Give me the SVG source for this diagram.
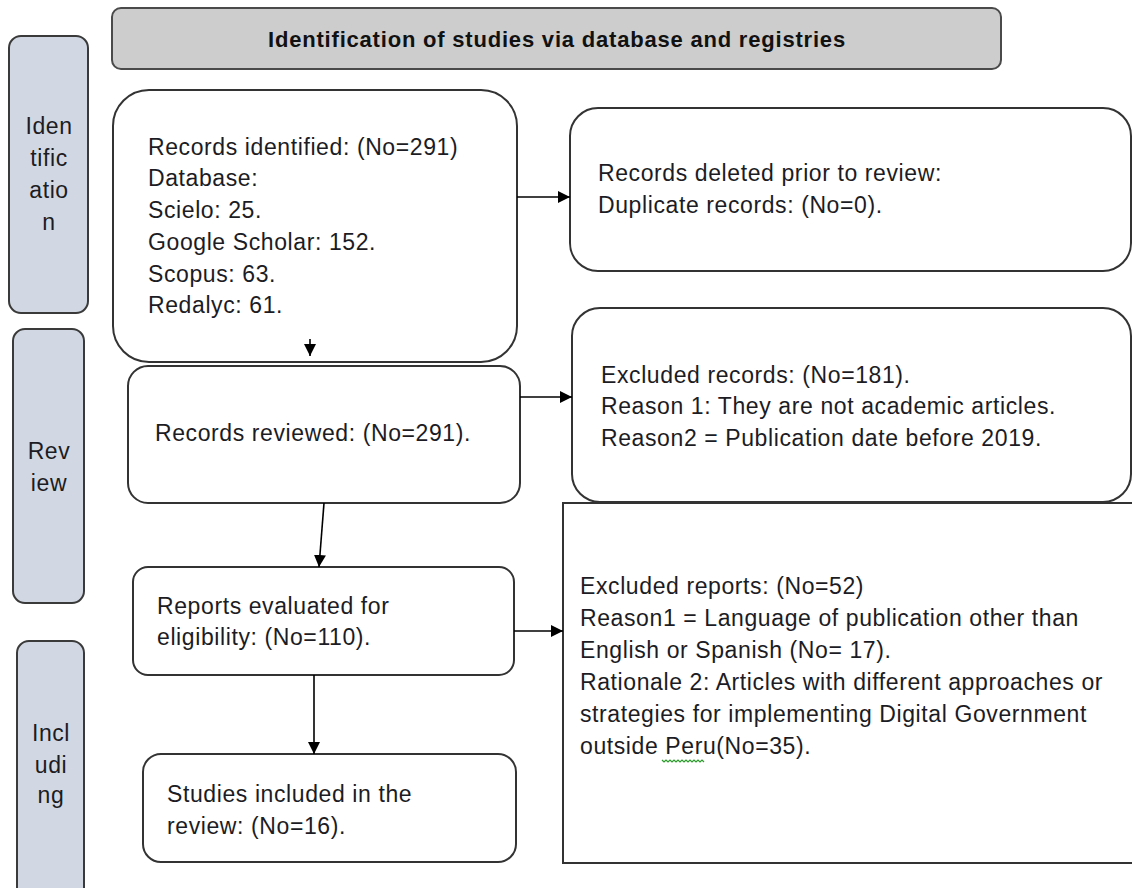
<svg xmlns="http://www.w3.org/2000/svg" width="1132" height="888" viewBox="0 0 1132 888">
<defs>
<marker id="ah" viewBox="0 0 10 10" refX="10" refY="5" markerWidth="12" markerHeight="12" markerUnits="userSpaceOnUse" orient="auto">
<path d="M0,0 L10,5 L0,10 z" fill="#000"/>
</marker>
<style>
.box{fill:#fff;stroke:#333;stroke-width:2}
.side{fill:#d2d8e3;stroke:#3a3a3a;stroke-width:2}
.title{fill:#cdcdcd;stroke:#4a4a4a;stroke-width:2}
.t{font-family:"Liberation Sans",Arial,sans-serif;font-size:23px;fill:#1c1c24;letter-spacing:0.6px}
.tb{font-family:"Liberation Sans",Arial,sans-serif;font-size:22px;font-weight:bold;fill:#111;letter-spacing:0.8px}
.c{text-anchor:middle}
.conn{stroke:#000;stroke-width:1.6;fill:none;marker-end:url(#ah)}
</style>
</defs>
<rect width="1132" height="888" fill="#fff"/>

<g id="title">
<rect class="title" x="112" y="8" width="889" height="61" rx="9"/>
<text class="tb c" x="557" y="47">Identification of studies via database and registries</text>
</g>

<g id="side-identification">
<rect class="side" x="9" y="36" width="79" height="277" rx="12"/>
<text class="t c" x="49" y="134">Iden</text>
<text class="t c" x="49" y="166">tific</text>
<text class="t c" x="49" y="198">atio</text>
<text class="t c" x="49" y="230">n</text>
</g>

<g id="side-review">
<rect class="side" x="13" y="329" width="71" height="274" rx="12"/>
<text class="t c" x="49" y="459">Rev</text>
<text class="t c" x="49" y="491">iew</text>
</g>

<g id="side-including">
<rect class="side" x="17" y="641" width="67" height="260" rx="12"/>
<text class="t c" x="51" y="741">Incl</text>
<text class="t c" x="51" y="773">udi</text>
<text class="t c" x="51" y="803">ng</text>
</g>

<g id="records-identified">
<rect class="box" x="113" y="90" width="404" height="272" rx="36"/>
<text class="t" x="148" y="155">Records identified: (No=291)</text>
<text class="t" x="148" y="186">Database:</text>
<text class="t" x="148" y="218">Scielo: 25.</text>
<text class="t" x="148" y="250">Google Scholar: 152.</text>
<text class="t" x="148" y="282">Scopus: 63.</text>
<text class="t" x="148" y="313">Redalyc: 61.</text>
</g>

<g id="records-deleted">
<rect class="box" x="570" y="108" width="561" height="163" rx="28"/>
<text class="t" x="598" y="181">Records deleted prior to review:</text>
<text class="t" x="598" y="213">Duplicate records: (No=0).</text>
</g>

<g id="records-reviewed">
<rect class="box" x="128" y="366" width="392" height="137" rx="20"/>
<text class="t" x="155" y="441">Records reviewed: (No=291).</text>
</g>

<g id="excluded-records">
<rect class="box" x="572" y="308" width="559" height="194" rx="28"/>
<text class="t" x="601" y="383">Excluded records: (No=181).</text>
<text class="t" x="601" y="414">Reason 1: They are not academic articles.</text>
<text class="t" x="601" y="446">Reason2 = Publication date before 2019.</text>
</g>

<g id="reports-evaluated">
<rect class="box" x="133" y="567" width="381" height="108" rx="15"/>
<text class="t" x="157" y="614">Reports evaluated for</text>
<text class="t" x="157" y="645">eligibility: (No=110).</text>
</g>

<g id="excluded-reports">
<rect class="box" x="563" y="503" width="575" height="360" rx="0"/>
<text class="t" x="580" y="594">Excluded reports: (No=52)</text>
<text class="t" x="580" y="626">Reason1 = Language of publication other than</text>
<text class="t" x="580" y="658">English or Spanish (No= 17).</text>
<text class="t" x="580" y="690">Rationale 2: Articles with different approaches or</text>
<text class="t" x="580" y="722">strategies for implementing Digital Government</text>
<text class="t" x="580" y="754">outside Peru(No=35).</text>
<path d="M662,760 l2,2 l2,-2 l2,2 l2,-2 l2,2 l2,-2 l2,2 l2,-2 l2,2 l2,-2 l2,2 l2,-2 l2,2 l2,-2 l2,2 l2,-2 l2,2 l2,-2 l2,2 l2,-2 l2,2" fill="none" stroke="#2a9a2a" stroke-width="1.2"/>
</g>

<g id="studies-included">
<rect class="box" x="143" y="754" width="373" height="108" rx="18"/>
<text class="t" x="167" y="802">Studies included in the</text>
<text class="t" x="167" y="834">review: (No=16).</text>
</g>

<g id="connectors">
<line class="conn" x1="517" y1="197" x2="570" y2="197"/>
<line class="conn" x1="310" y1="339" x2="310" y2="356"/>
<line class="conn" x1="520" y1="397" x2="572" y2="397"/>
<line class="conn" x1="324" y1="503" x2="319" y2="567"/>
<line class="conn" x1="514" y1="631" x2="563" y2="631"/>
<line class="conn" x1="314" y1="675" x2="314" y2="754"/>
</g>
</svg>
